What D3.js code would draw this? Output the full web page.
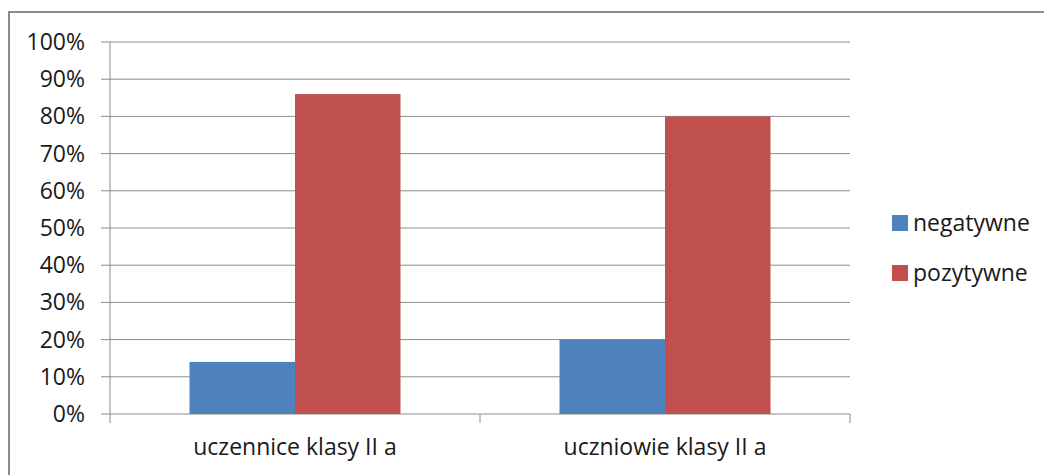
<!DOCTYPE html>
<html>
<head>
<meta charset="utf-8">
<script src="https://cdnjs.cloudflare.com/ajax/libs/d3/7.8.5/d3.min.js"></script>
<style>
  body { margin: 0; background: #fff; }
  svg { display: block; }
  text { font-family: "Open Sans", sans-serif; fill: #1a1a1a; }
</style>
</head>
<body>
<svg width="1044" height="475"></svg>
<script>
//Chart data
var categories = ["uczennice klasy II a", "uczniowie klasy II a"];
var seriesNames = ["negatywne", "pozytywne"];
var negatywne = [0.14, 0.20];
var pozytywne = [0.86, 0.80];
var yTicks = [0, 0.1, 0.2, 0.3, 0.4, 0.5, 0.6, 0.7, 0.8, 0.9, 1.0];
var colors = ["#4f81bd", "#c0504d"];

var margin = {top: 42, left: 110},
  width  = 740,
  height = 372;

var svg = d3.select("svg");

//Outer frame
svg.append("rect")
  .attr("x", 9).attr("y", 12)
  .attr("width", 1100).attr("height", 500)
  .attr("fill", "none")
  .attr("stroke", "#8c8c8c")
  .attr("stroke-width", 2);

var g = svg.append("g")
  .attr("transform", "translate(" + margin.left + "," + margin.top + ")");

var x0 = d3.scaleBand().domain(categories).range([0, width]);
var x1 = d3.scaleBand().domain(seriesNames).range([0, 211]);
var y = d3.scaleLinear().domain([0, 1]).range([height, 0]);

//Gridlines
g.selectAll(".grid")
  .data(yTicks)
  .enter().append("line")
  .attr("x1", -9).attr("x2", width)
  .attr("y1", function(d) { return y(d); })
  .attr("y2", function(d) { return y(d); })
  .attr("stroke", "#8c8c8c")
  .attr("stroke-width", 1);

//Y labels
g.selectAll(".ylab")
  .data(yTicks)
  .enter().append("text")
  .attr("x", -25)
  .attr("y", function(d) { return y(d); })
  .attr("dy", "0.35em")
  .attr("text-anchor", "end")
  .style("font-size", "23px")
  .text(function(d) { return Math.round(d * 100) + "%"; });

//Bars
var rows = categories.map(function(c, i) {
  return {cat: c, vals: [negatywne[i], pozytywne[i]]};
});
var groups = g.selectAll(".cat")
  .data(rows)
  .enter().append("g")
  .attr("transform", function(d) {
    return "translate(" + (x0(d.cat) + (x0.bandwidth() - 211) / 2) + ",0)";
  });
groups.selectAll("rect")
  .data(function(d) { return d.vals.map(function(v, j) { return {k: seriesNames[j], v: v, j: j}; }); })
  .enter().append("rect")
  .attr("x", function(d) { return x1(d.k); })
  .attr("width", x1.bandwidth())
  .attr("y", function(d) { return y(d.v); })
  .attr("height", function(d) { return height - y(d.v); })
  .attr("fill", function(d) { return colors[d.j]; });

//Y axis line
g.append("line")
  .attr("x1", 0).attr("x2", 0).attr("y1", 0).attr("y2", height)
  .attr("stroke", "#8c8c8c");

//X axis ticks
var xTickPos = [0].concat(categories.map(function(c) { return x0(c) + x0.bandwidth(); }));
g.selectAll(".xtick")
  .data(xTickPos)
  .enter().append("line")
  .attr("x1", function(d) { return d; }).attr("x2", function(d) { return d; })
  .attr("y1", height).attr("y2", height + 9)
  .attr("stroke", "#8c8c8c");

//X labels
g.selectAll(".xlab")
  .data(categories)
  .enter().append("text")
  .attr("x", function(d) { return x0(d) + x0.bandwidth() / 2; })
  .attr("y", height + 41)
  .attr("text-anchor", "middle")
  .style("font-size", "23px")
  .text(function(d) { return d; });

//Legend
var legend = svg.selectAll(".legend")
  .data(seriesNames)
  .enter().append("g")
  .attr("transform", function(d, i) { return "translate(892," + (215 + i * 50) + ")"; });
legend.append("rect")
  .attr("width", 16).attr("height", 16)
  .attr("fill", function(d, i) { return colors[i]; });
legend.append("text")
  .attr("x", 21).attr("y", 8)
  .attr("dy", "0.35em")
  .style("font-size", "23px")
  .text(function(d) { return d; });
</script>
</body>
</html>
